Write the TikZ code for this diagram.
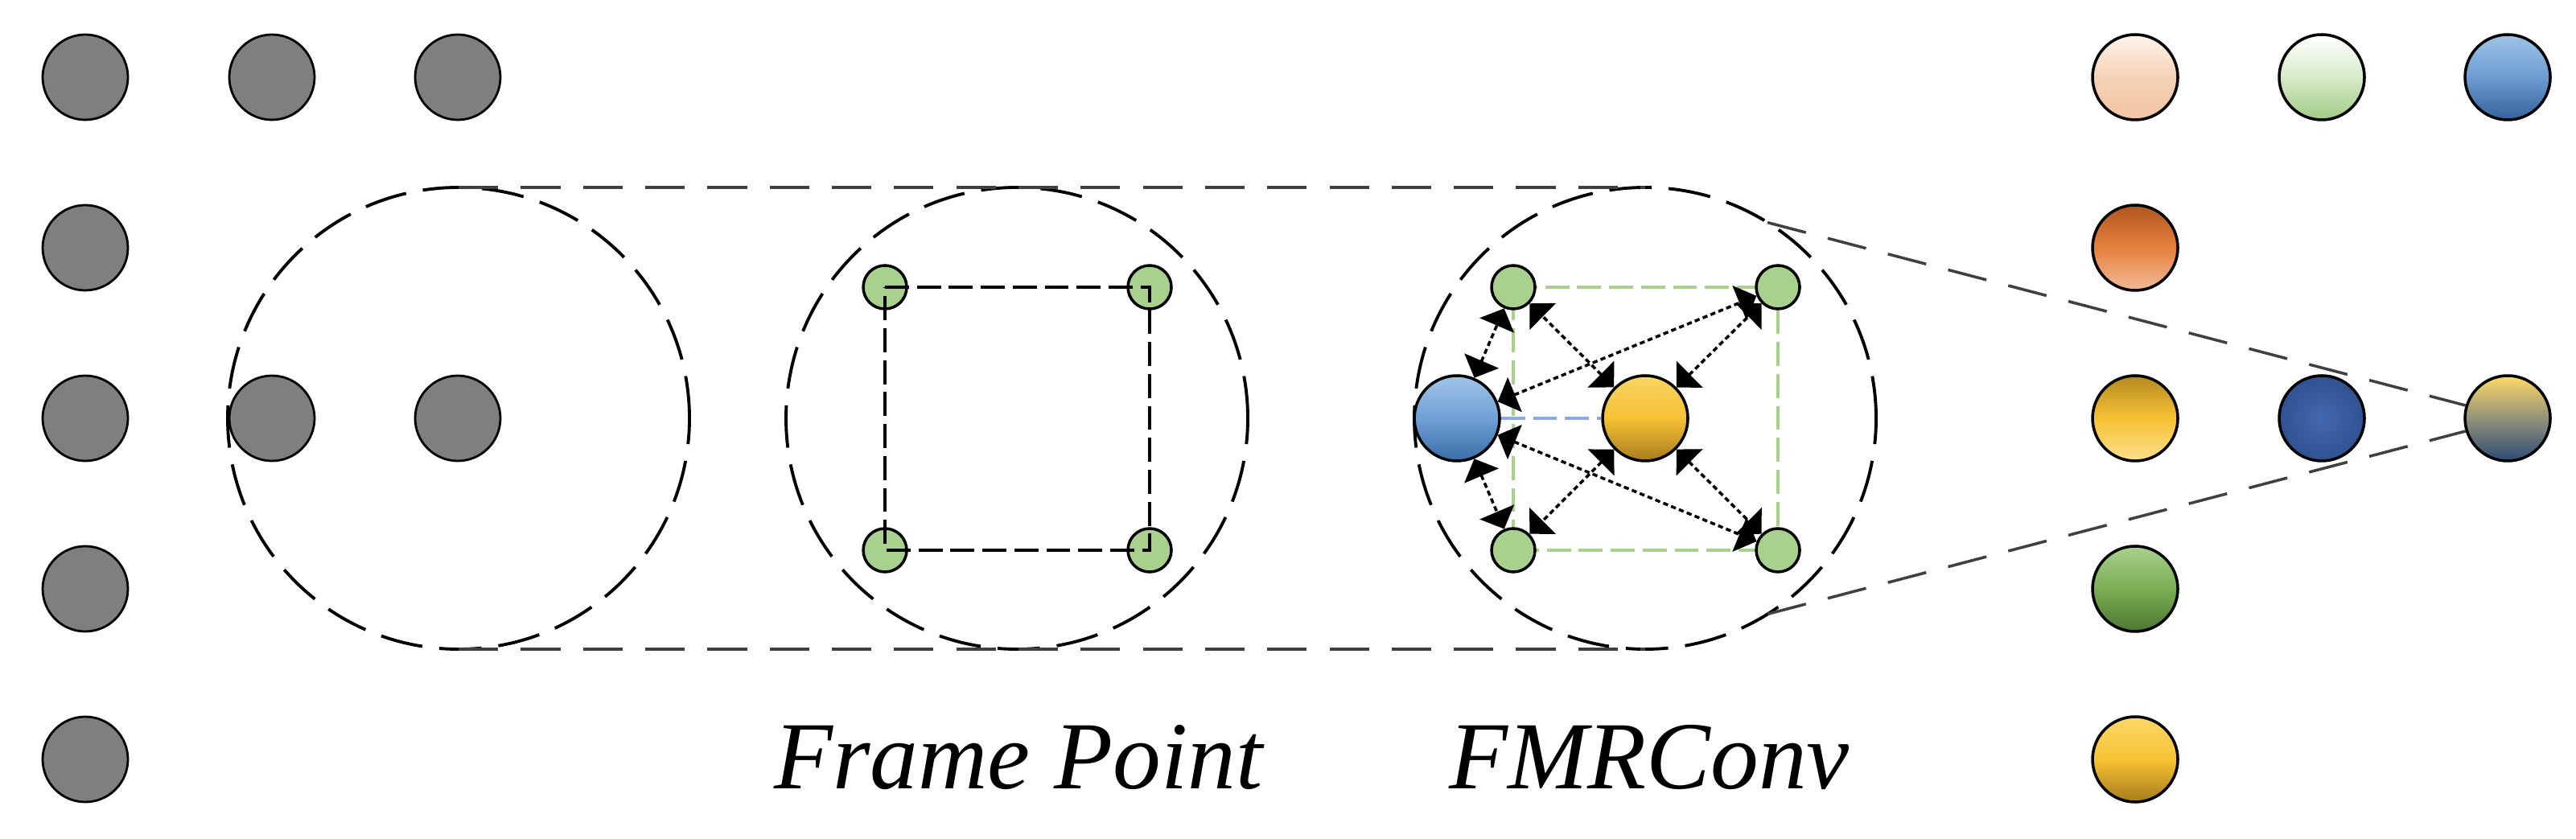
\documentclass[tikz,border=0pt]{standalone}
\usepackage{fontspec}
\setmainfont{Liberation Serif}
\usetikzlibrary{arrows.meta}

\definecolor{greyfill}{HTML}{7F7F7F}
\definecolor{ptgreen}{HTML}{A9D18E}
\definecolor{zoomgrey}{HTML}{404040}
\definecolor{edgeblue}{HTML}{8FAADC}

\tikzset{
    greydot/.style={circle, draw, line width=0.8pt, fill=greyfill, minimum size=1.06cm, inner sep=0pt},
    ballnode/.style={circle, draw, line width=1pt, minimum size=1.06cm, inner sep=0pt},
    greenpt/.style={circle, draw, line width=1pt, fill=ptgreen, minimum size=0.54cm, inner sep=0pt},
    field/.style={circle, draw, line width=1.1pt, dash pattern=on 15pt off 6pt, minimum size=5.74cm, inner sep=0pt, outer sep=0pt},
    zoomline/.style={draw=zoomgrey, line width=1pt, dash pattern=on 14pt off 8pt},
    sqline/.style={line width=1.1pt, dash pattern=on 8.5pt off 2.8pt},
    link/.style={<->, line width=1pt, dash pattern=on 1.8pt off 1.2pt},
    capt/.style={font=\fontsize{34}{40}\selectfont\itshape, anchor=base},
    >={Triangle[width=4.6mm,length=2.3mm]}
}

\begin{document}
\begin{tikzpicture}

                    \useasboundingbox (0,0) rectangle (32.02,10.42);

                    \foreach \y/\n in {9.46/1,7.34/2,5.22/3,3.10/4,0.98/5}
                        \node[greydot] (l\n) at (1.06,\y) {};
                    \node[greydot] (t2) at (3.38,9.46) {};
                    \node[greydot] (t3) at (5.69,9.46) {};

                    \node[field] (near) at (5.70,5.22) {};
                    \node[field] (frame) at (12.64,5.22) {};
                    \node[field] (fmr) at (20.45,5.22) {};

                    \node[greydot] (m2) at (3.38,5.22) {};
                    \node[greydot] (m3) at (5.69,5.22) {};

                    \node[greenpt] (f1) at (11.00,6.85) {};
                    \node[greenpt] (f2) at (14.29,6.85) {};
                    \node[greenpt] (f3) at (11.00,3.58) {};
                    \node[greenpt] (f4) at (14.29,3.58) {};
                    \draw[sqline] (f1.center) -- (f2.center) -- (f4.center) -- (f3.center) -- cycle;

                    \coordinate (p1) at (18.81,6.85);
                    \coordinate (p2) at (22.10,6.85);
                    \coordinate (p3) at (18.81,3.58);
                    \coordinate (p4) at (22.10,3.58);
                    \draw[sqline, ptgreen] (p1) -- (p2) -- (p4) -- (p3) -- cycle;
                    \foreach \n in {1,2,3,4}
                        \node[greenpt] (c\n) at (p\n) {};

                    \node[ballnode, top color={rgb,255:red,160;green,196;blue,230}, bottom color={rgb,255:red,58;green,108;blue,166}, middle color={rgb,255:red,112;green,160;blue,214}] (src) at (18.11,5.22) {};
                    \node[ballnode, top color={rgb,255:red,250;green,214;blue,100}, bottom color={rgb,255:red,168;green,125;blue,30}, middle color={rgb,255:red,245;green,192;blue,52}] (ctr) at (20.45,5.22) {};
                    \draw[sqline, edgeblue] (src) -- (ctr);

                    \foreach \n in {1,2,3,4} {
                        \draw[link] (src) -- (c\n);
                        \draw[link] (ctr) -- (c\n);
                    }

                    \node[ballnode, top color={rgb,255:red,253;green,244;blue,236}, bottom color={rgb,255:red,242;green,196;blue,162}, middle color={rgb,255:red,245;green,210;blue,182}] (r1) at (26.54,9.46) {};
                    \node[ballnode, top color=white, bottom color={rgb,255:red,160;green,204;blue,132}, middle color={rgb,255:red,214;green,234;blue,200}] (r2) at (28.86,9.46) {};
                    \node[ballnode, top color={rgb,255:red,160;green,196;blue,230}, bottom color={rgb,255:red,52;green,98;blue,156}, middle color={rgb,255:red,108;green,156;blue,210}] (r3) at (31.17,9.46) {};
                    \node[ballnode, top color={rgb,255:red,176;green,86;blue,30}, bottom color={rgb,255:red,240;green,186;blue,150}, middle color={rgb,255:red,230;green,128;blue,62}] (r4) at (26.54,7.34) {};
                    \node[ballnode, top color={rgb,255:red,180;green,136;blue,32}, bottom color={rgb,255:red,250;green,224;blue,140}, middle color={rgb,255:red,246;green,194;blue,52}] (r5) at (26.54,5.22) {};
                    \node[ballnode, inner color={rgb,255:red,68;green,104;blue,176}, outer color={rgb,255:red,48;green,82;blue,146}] (r6) at (28.86,5.22) {};
                    \node[ballnode, top color={rgb,255:red,255;green,217;blue,102}, bottom color={rgb,255:red,44;green,76;blue,118}, middle color={rgb,255:red,146;green,146;blue,122}] (out) at (31.17,5.22) {};
                    \node[ballnode, top color={rgb,255:red,170;green,208;blue,142}, bottom color={rgb,255:red,76;green,118;blue,50}, middle color={rgb,255:red,122;green,174;blue,82}] (r8) at (26.54,3.10) {};
                    \node[ballnode, top color={rgb,255:red,252;green,216;blue,104}, bottom color={rgb,255:red,166;green,124;blue,30}, middle color={rgb,255:red,246;green,194;blue,52}] (r9) at (26.54,0.98) {};

                    \draw[zoomline] (near.north) -- (fmr.north);
                    \draw[zoomline] (near.south) -- (fmr.south);
                    \draw[zoomline] (fmr.58) -- (out.163);
                    \draw[zoomline] (fmr.-58) -- (out.-163);

                    \node[capt] (fptext) at (12.66,0.62) {Frame Point};
                    \node[capt] (fmrtext) at (20.50,0.62) {FMRConv};

\end{tikzpicture}
\end{document}
